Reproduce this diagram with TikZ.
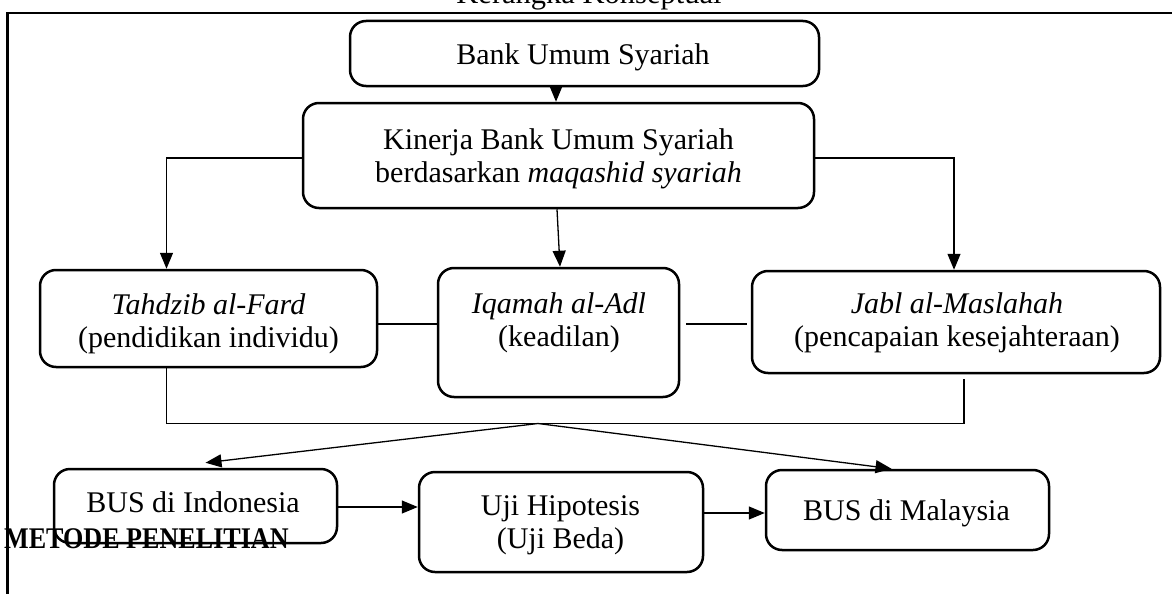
\documentclass[tikz,border=0pt]{standalone}
\usepackage{fontspec}
\setmainfont{Liberation Serif}
\usepackage{graphicx}
\usetikzlibrary{arrows.meta}
\tikzset{
  box/.style={draw, line width=2.5pt, rounded corners=16pt, inner sep=0pt},
  txt/.style={align=center, inner sep=0pt, anchor=north, font=\fontsize{30}{33}\selectfont},
  conn/.style={line width=1.3pt},
  arr/.style={conn, -{Triangle[length=16pt,width=13pt]}},
  frame/.style={line width=2.7pt}
}
\begin{document}
\begin{tikzpicture}[x=1pt,y=-1pt]
\useasboundingbox (0,0) rectangle (1172,594);
\clip (0,0) rectangle (1172,594);
\fill[white] (0,0) rectangle (1172,594);
\draw[frame] (7.7,13) rectangle (1210,640);
\node[anchor=base, inner sep=0pt, font=\fontsize{30.5}{34}\selectfont] (title) at (589,4) {Kerangka Konseptual};

% boxes
\node[box, minimum width=469pt, minimum height=65pt] (bank) at (584.5,53.5) {};
\node[box, minimum width=511pt, minimum height=105pt] (kin) at (558.5,155.5) {};
\node[box, minimum width=337pt, minimum height=97pt] (tah) at (208.5,318.5) {};
\node[box, minimum width=241pt, minimum height=129pt] (iqa) at (558.5,332.5) {};
\node[box, minimum width=408pt, minimum height=102pt] (jab) at (956,322) {};
\node[box, minimum width=283pt, minimum height=74pt] (ind) at (195.5,506) {};
\node[box, minimum width=284pt, minimum height=100pt] (uji) at (561,522) {};
\node[box, minimum width=283pt, minimum height=80pt] (mal) at (907.5,510) {};

% texts
\node[txt] (bankt) at (583,43.6) {Bank Umum Syariah};
\node[txt] (kint) at (558.5,128.6) {Kinerja Bank Umum Syariah\\berdasarkan \textit{maqashid syariah}};
\node[txt] (taht) at (208.5,293.6) {\textit{Tahdzib al-Fard}\\(pendidikan individu)};
\node[txt] (iqat) at (559,292.6) {\textit{Iqamah al-Adl}\\(keadilan)};
\node[txt] (jabt) at (957,292.6) {\textit{Jabl al-Maslahah}\\(pencapaian kesejahteraan)};
\node[txt] (indt) at (193,491.6) {BUS di Indonesia};
\node[txt] (ujit) at (560.5,495.6) {Uji Hipotesis\\(Uji Beda)};
\node[txt] (malt) at (906.5,499.6) {BUS di Malaysia};

% connectors
\coordinate (bl) at (166.5,423.5);
\coordinate (br) at (964,423.5);
\coordinate (apex) at (538,423.5);

\draw[arr] ([xshift=-28.5pt]bank.south) -- ([xshift=-28.5pt]bank.south |- kin.north);
\draw[arr] ([yshift=-2.5pt]kin.west) -| ([xshift=-42pt]tah.north);
\draw[arr] ([yshift=-2.5pt]kin.east) -| ([xshift=-2pt]jab.north);
\draw[arr] ([xshift=-1.5pt]kin.south) -- ([xshift=1.5pt]iqa.north);
\draw[conn] ([yshift=-5.5pt]tah.east) -- ([yshift=-5.5pt]tah.east -| iqa.west);
\draw[conn, shorten <=6pt, shorten >=4pt] ([yshift=-2pt]jab.west -| iqa.east) -- ([yshift=-2pt]jab.west);
\draw[conn] (tah.south -| bl) -- (bl) -- (br) -- ([yshift=-5pt]jab.south -| br);
\draw[arr] (apex) -- ([xshift=10pt,yshift=5pt]ind.north);
\draw[arr] (apex) -- ([xshift=-16pt]mal.north);
\draw[arr] ([yshift=-1pt]ind.east) -- ([yshift=-1pt]ind.east -| uji.west);
\draw[arr] ([yshift=9pt]uji.east) -- ([yshift=9pt]uji.east -| mal.west);

\node[anchor=base west, inner sep=0pt, font=\fontsize{30}{33}\selectfont\bfseries] (metode) at (4,548) {\scalebox{0.87}[1]{METODE PENELITIAN}};
\end{tikzpicture}
\end{document}
